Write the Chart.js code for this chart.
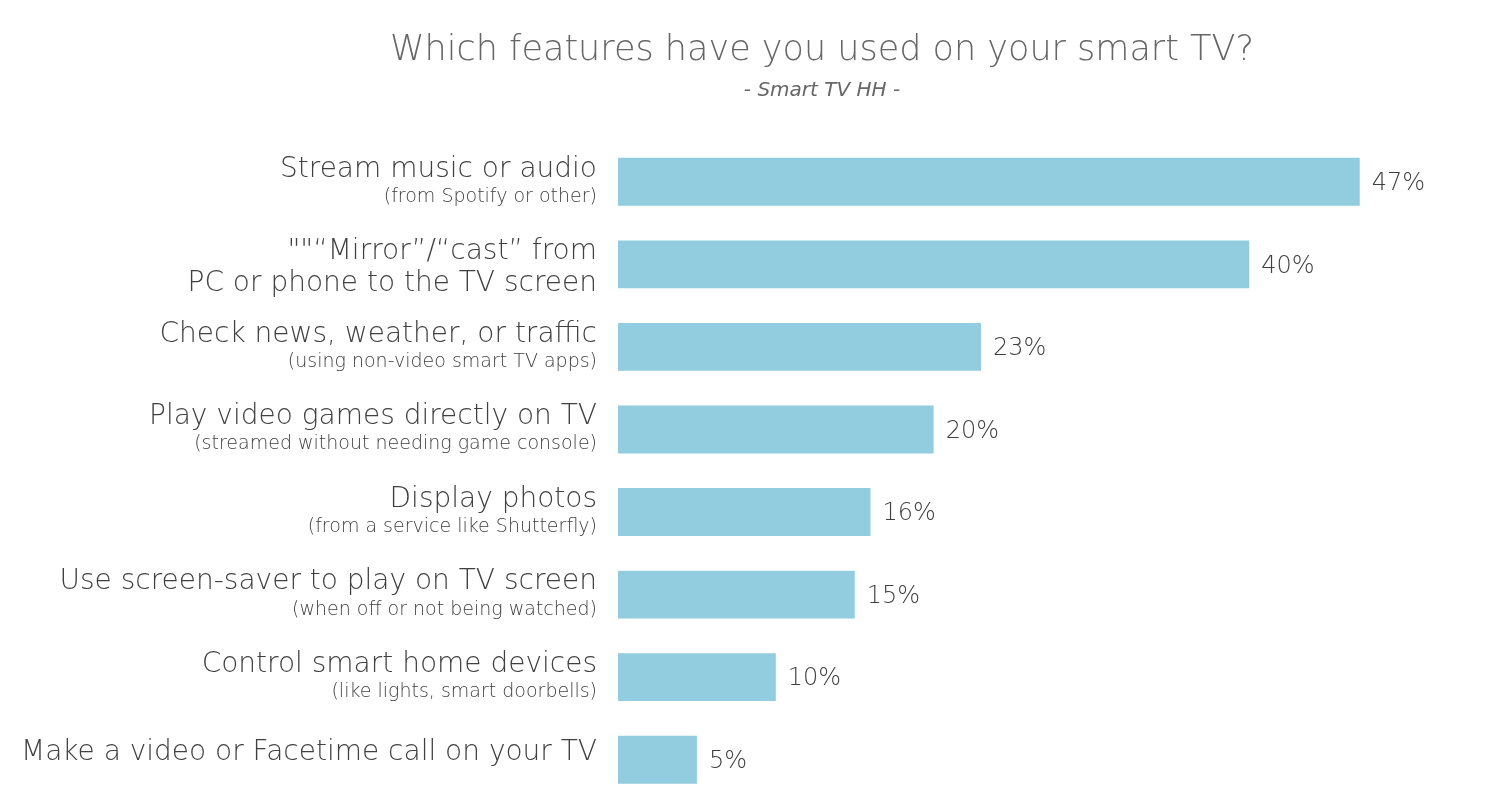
<!DOCTYPE html>
<html>
<head>
<meta charset="utf-8">
<title>Smart TV features</title>
<script src="https://cdn.jsdelivr.net/npm/chart.js@4.4.1/dist/chart.umd.min.js"></script>
<style>
  html, body { margin: 0; padding: 0; background: #fff; }
  #wrap { width: 1486px; height: 806px; position: relative; }
</style>
</head>
<body>
<div id="wrap"><canvas id="chart"></canvas></div>
<script>
const mainLines = [
  ['Stream music or audio'],
  ['""\u201CMirror\u201D/\u201Ccast\u201D from', 'PC or phone to the TV screen'],
  ['Check news, weather, or traffic'],
  ['Play video games directly on TV'],
  ['Display photos'],
  ['Use screen-saver to play on TV screen'],
  ['Control smart home devices'],
  ['Make a video or Facetime call on your TV']
];
const subLines = [
  '(from Spotify or other)',
  '',
  '(using non-video smart TV apps)',
  '(streamed without needing game console)',
  '(from a service like Shutterfly)',
  '(when off or not being watched)',
  '(like lights, smart doorbells)',
  ''
];
const usedPct = [47, 40, 23, 20, 16, 15, 10, 5];

const FONT = '"DejaVu Sans", sans-serif';
const TEXT = '#404040';

// category labels drawn by hand: big first line, small second line
const sideLabels = {
  id: 'sideLabels',
  afterDraw(chart) {
    const ctx = chart.ctx;
    const y = chart.scales.y;
    const right = chart.chartArea.left - 21;
    ctx.save();
    ctx.fillStyle = TEXT;
    ctx.textAlign = 'right';
    ctx.textBaseline = 'middle';
    mainLines.forEach((lines, i) => {
      const cy = y.getPixelForValue(i);
      const rows = lines.map(t => ({ t, small: false }));
      if (subLines[i]) rows.push({ t: subLines[i], small: true });
      const offs = rows.length === 1 ? [-7] : (rows[1].small ? [-12.5, 15] : [-12.5, 19.5]);
      rows.forEach((r, k) => {
        ctx.font = '300 ' + (r.small ? '19px ' : '28px ') + FONT;
        ctx.fillText(r.t, right, cy + offs[k]);
      });
    });
    ctx.restore();
  }
};

const valueLabels = {
  id: 'valueLabels',
  afterDatasetsDraw(chart) {
    const ctx = chart.ctx;
    const meta = chart.getDatasetMeta(0);
    ctx.save();
    ctx.fillStyle = TEXT;
    ctx.font = '300 24px ' + FONT;
    ctx.textAlign = 'left';
    ctx.textBaseline = 'middle';
    meta.data.forEach((bar, i) => {
      ctx.fillText(usedPct[i] + '%', bar.x + 12, bar.y + 2);
    });
    ctx.restore();
  }
};

new Chart(document.getElementById('chart'), {
  type: 'bar',
  data: {
    labels: mainLines.map((l, i) => l.join(' ') + (subLines[i] ? ' ' + subLines[i] : '')),
    datasets: [{
      data: usedPct,
      backgroundColor: '#92CDDF',
      borderWidth: 0,
      barPercentage: 0.58,
      categoryPercentage: 1
    }]
  },
  options: {
    indexAxis: 'y',
    responsive: true,
    maintainAspectRatio: false,
    animation: false,
    layout: { padding: { left: 158, right: 0, top: 0, bottom: 5 } },
    plugins: {
      legend: { display: false },
      tooltip: { enabled: false },
      title: {
        display: true,
        text: 'Which features have you used on your smart TV?',
        color: '#666666',
        font: { family: FONT, size: 35, weight: 300 },
        padding: { top: 30, bottom: 4 }
      },
      subtitle: {
        display: true,
        text: '- Smart TV HH -',
        color: '#666666',
        font: { family: FONT, size: 20, style: 'italic', weight: 300 },
        padding: { top: 3, bottom: 37.5 }
      }
    },
    scales: {
      x: {
        display: false,
        min: 0,
        max: 55
      },
      y: {
        grid: { display: false },
        border: { display: false },
        ticks: { display: false },
        afterFit(scale) { scale.width = 460; }
      }
    }
  },
  plugins: [sideLabels, valueLabels]
});
</script>
</body>
</html>
